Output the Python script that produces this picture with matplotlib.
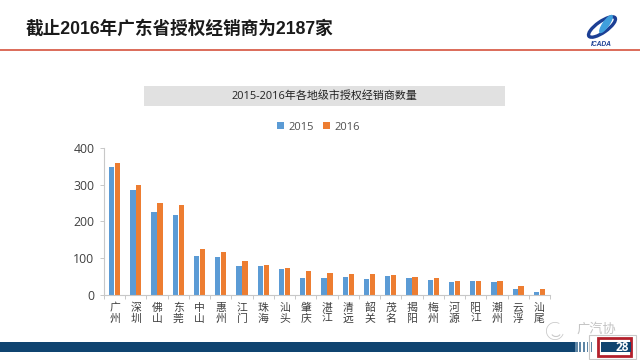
import matplotlib
matplotlib.use('Agg')
import numpy as np
import matplotlib.pyplot as plt
from matplotlib.patches import Rectangle, Ellipse, Wedge, Arc

# du lieu doc tu hinh
cities = ['广州', '深圳', '佛山', '东莞', '中山', '惠州', '江门', '珠海', '汕头', '肇庆', '湛江',
          '清远', '韶关', '茂名', '揭阳', '梅州', '河源', '阳江', '潮州', '云浮', '汕尾']
y2015 = [349, 284, 226, 217, 106, 103, 79, 77, 70, 46, 44, 47, 42, 51, 44, 40, 35, 36, 35, 16, 7]
y2016 = [360, 300, 250, 245, 125, 115, 92, 81, 72, 63, 59, 57, 56, 53, 49, 45, 38, 38, 37, 24, 14]
yticks = [0, 100, 200, 300, 400]

title = '截止2016年广东省授权经销商为2187家'
subtitle = '2015-2016年各地级市授权经销商数量'
page_no = '28'

plt.rcParams['font.family'] = ['Open Sans', 'Noto Sans CJK SC', 'DejaVu Sans']

W, H = 640, 360
fig = plt.figure(figsize=(6.4, 3.6), dpi=100)

# lop nen theo toa do pixel
bg = fig.add_axes([0, 0, 1, 1])
bg.set_xlim(0, W)
bg.set_ylim(H, 0)
bg.axis('off')

bg.text(26, 29, title, fontsize=12.7, fontweight='bold', color='#1a1a1a', va='center',
        family=['Liberation Sans', 'Noto Sans CJK SC'])
bg.plot([0, W], [49.5, 49.5], color='#d9604c', lw=1.3)

# logo
bg.add_patch(Ellipse((602, 27), 32, 11, angle=-35, fc='none', ec='#1c3f94', lw=2.4))
bg.add_patch(Ellipse((606, 24), 7, 22, angle=35, fc='#3f9fdc', ec='none'))
bg.text(601, 44, 'ICADA', fontsize=4.8, fontweight='bold', style='italic', color='#1c3f94',
        ha='center', va='center', family='Liberation Sans')

# thanh tieu de bieu do
bg.add_patch(Rectangle((144, 86), 361, 20, fc='#e1e1e1', ec='none'))
bg.text(324.5, 96.5, subtitle, fontsize=7.9, fontweight='medium', color='#222222', ha='center', va='center')

# chan trang
bg.add_patch(Rectangle((0, 342), 575, 10, fc='#0f4470', ec='none'))
for x0, w in zip([575, 579, 583, 587, 591], [2.6, 2.2, 1.8, 1.4, 1.0]):
    bg.add_patch(Rectangle((x0, 342), w, 10, fc='#5f86a5', ec='none'))
bg.add_patch(Rectangle((589, 335), 47, 24, fc='none', ec='#c8c8c8', lw=0.8))
bg.add_patch(Rectangle((598, 338), 33, 18, fc='white', ec='#b3202c', lw=2))
bg.add_patch(Rectangle((601, 342), 30, 10, fc='#0f4470', ec='none'))
bg.text(622, 347.5, page_no, fontsize=8.5, fontweight='bold', color='white', ha='center', va='center')

# watermark
bg.add_patch(Wedge((555, 331), 9, 20, 300, width=0.8, fc='#c9c9c9', ec='none'))
bg.add_patch(Arc((556, 333), 9, 7, theta1=20, theta2=160, ec='#c9c9c9', lw=0.8))
bg.text(596, 329, '广汽协', fontsize=9.5, color='#c4c4c4', ha='center', va='center')

# bieu do cot
ax = fig.add_axes([104 / W, 1 - 294.5 / H, 446 / W, 146.5 / H])
x = np.arange(len(cities))
ax.bar(x - 0.14, y2015, 0.25, color='#5b9bd5', label='2015')
ax.bar(x + 0.14, y2016, 0.25, color='#ed7d31', label='2016')
ax.set_xlim(-0.5, len(cities) - 0.5)
ax.set_ylim(0, 400)
ax.set_yticks(yticks)
ax.set_xticks(np.arange(len(cities) + 1) - 0.5, minor=False)
ax.set_xticklabels([])
for i, c in enumerate(cities):
    ax.text(i, -0.06, c[0] + '\n' + c[1], transform=ax.get_xaxis_transform(), ha='center', va='top',
            fontsize=7.8, color='#404040', linespacing=0.95)
ax.tick_params(axis='y', labelsize=8.8, labelcolor='#404040', length=3, color='#c8c8c8', width=0.7, pad=4)
ax.tick_params(axis='x', length=3, color='#c8c8c8', width=0.7)
ax.spines['top'].set_visible(False)
ax.spines['right'].set_visible(False)
ax.spines['left'].set_color('#c8c8c8')
ax.spines['bottom'].set_color('#c8c8c8')
ax.patch.set_alpha(0)

fig.legend(loc='center', bbox_to_anchor=(318.5 / W, 1 - 127 / H), ncol=2, frameon=False, fontsize=8,
           labelcolor='#505050', handlelength=0.6, handleheight=0.6, handletextpad=0.4, columnspacing=0.8)

fig.savefig('out.png', dpi=100)
